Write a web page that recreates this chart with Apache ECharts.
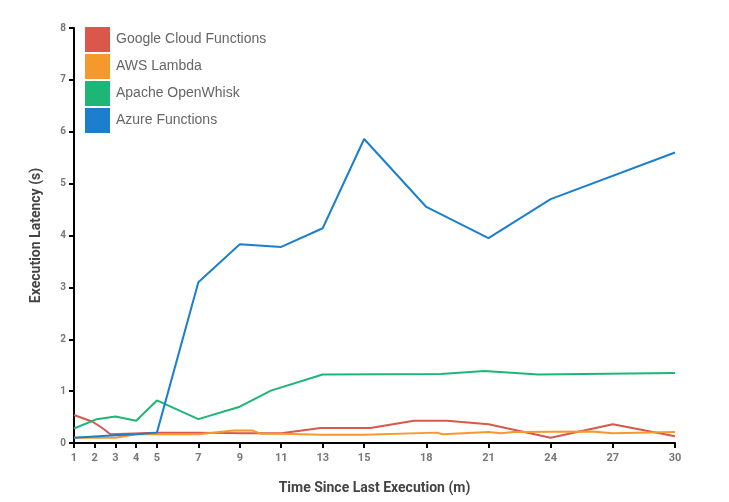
<!DOCTYPE html>
<html><head><meta charset="utf-8">
<script src="https://cdn.jsdelivr.net/npm/echarts@6/dist/echarts.min.js"></script>
<style>html,body{margin:0;padding:0;background:#fff}#c{width:729px;height:502px}</style>
</head><body><div id="c"></div>
<script>
const xTicks = [1,2,3,4,5,7,9,11,13,15,18,21,24,27,30];
const seriesNames = ['Google Cloud Functions','AWS Lambda','Apache OpenWhisk','Azure Functions'];
const colors = ['#d9574b','#f5992c','#1eb676','#1b7fcd'];
const googleX = [1,1.9,2.4,2.75,5,7,9,11,12.9,15.3,17.4,19,21,24,27,30];
const googleY = [0.54,0.41,0.28,0.17,0.2,0.2,0.19,0.19,0.29,0.29,0.43,0.43,0.36,0.1,0.36,0.13];
const awsX = [1,3,4,5,7,8.7,9.6,10,11,12.9,15,18.5,18.8,21,21.6,22.2,26,27,30];
const awsY = [0.1,0.1,0.17,0.17,0.17,0.24,0.24,0.18,0.18,0.16,0.16,0.2,0.17,0.21,0.19,0.21,0.22,0.19,0.21];
const owX = [1,2.1,3,4,5,7,9,10.5,13,18.7,20.8,23.4,30];
const owY = [0.28,0.46,0.51,0.43,0.82,0.46,0.70,1.01,1.32,1.33,1.39,1.32,1.35];
const azX = [1,3,4,5,7,9,11,13,15,18,21,24,30];
const azY = [0.1,0.15,0.17,0.2,3.1,3.83,3.78,4.14,5.86,4.55,3.95,4.7,5.6];
const yTicks = [0,1,2,3,4,5,6,7,8];

function pairs(xs, ys){ return xs.map((x,i)=>[x, ys[i]]); }
const allX = [googleX, awsX, owX, azX];
const allY = [googleY, awsY, owY, azY];

const chart = echarts.init(document.getElementById('c'));
chart.setOption({
  animation:false,
  color: colors,
  grid:{left:74, right:54, top:28, bottom:59},
  legend:{
    orient:'vertical', left:85, top:27, padding:0, itemWidth:25, itemHeight:25, itemGap:2,
    icon:'rect',
    textStyle:{fontFamily:'Liberation Sans', fontSize:14, color:'#666', padding:[0,0,0,1]},
    data: seriesNames
  },
  xAxis:{
    type:'value', min:1, max:30,
    name:'Time Since Last Execution (m)', nameLocation:'middle', nameGap:38,
    nameTextStyle:{fontFamily:'Roboto', fontWeight:'bold', fontSize:14, color:'#444'},
    axisLine:{lineStyle:{color:'#000', width:2}},
    axisTick:{customValues:xTicks, length:5, lineStyle:{color:'#000', width:2}},
    axisLabel:{customValues:xTicks, fontFamily:'Roboto', fontWeight:'bold', fontSize:11, color:'#777', margin:10},
    splitLine:{show:false}
  },
  yAxis:{
    type:'value', min:0, max:8, interval:1,
    name:'Execution Latency (s)', nameLocation:'middle', nameGap:31, nameRotate:90,
    nameTextStyle:{fontFamily:'Roboto', fontWeight:'bold', fontSize:14, color:'#444'},
    axisLine:{show:true, lineStyle:{color:'#000', width:2}},
    axisTick:{show:true, length:5, lineStyle:{color:'#000', width:2}},
    axisLabel:{fontFamily:'Roboto', fontWeight:'bold', fontSize:10, color:'#777', margin:8},
    splitLine:{show:false}
  },
  series: seriesNames.map((n,i)=>({
    name:n, type:'line', data:pairs(allX[i], allY[i]),
    showSymbol:false, symbol:'none', lineStyle:{width:2, color:colors[i]},
    itemStyle:{color:colors[i]}, z: i===3?5:2+i
  }))
});
</script></body></html>
